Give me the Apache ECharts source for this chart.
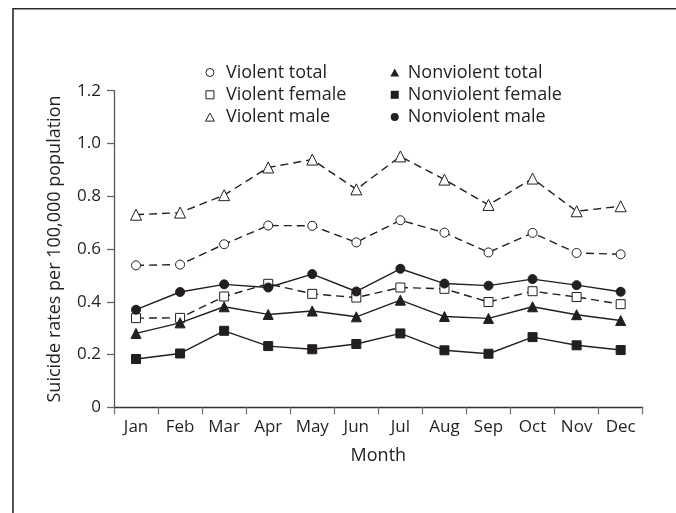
<!DOCTYPE html>
<html>
<head>
<meta charset="utf-8">
<style>
html,body{margin:0;padding:0;background:#fff;}
#chart{width:676px;height:513px;}
</style>
<script src="https://cdn.jsdelivr.net/npm/echarts@6/dist/echarts.min.js"></script>
</head>
<body>
<div id="chart"></div>
<script>
var months = ['Jan','Feb','Mar','Apr','May','Jun','Jul','Aug','Sep','Oct','Nov','Dec'];
var yTicks = [0, 0.2, 0.4, 0.6, 0.8, 1.0, 1.2];
var violentTotal     = [0.538,0.541,0.618,0.689,0.688,0.625,0.709,0.662,0.587,0.661,0.585,0.580];
var violentFemale    = [0.338,0.339,0.420,0.468,0.430,0.416,0.454,0.449,0.399,0.440,0.418,0.391];
var violentMale      = [0.730,0.738,0.804,0.909,0.939,0.826,0.951,0.863,0.767,0.867,0.743,0.762];
var nonviolentTotal  = [0.280,0.320,0.381,0.352,0.365,0.343,0.406,0.344,0.337,0.381,0.351,0.329];
var nonviolentFemale = [0.183,0.204,0.290,0.232,0.220,0.240,0.280,0.216,0.203,0.266,0.235,0.217];
var nonviolentMale   = [0.370,0.437,0.466,0.454,0.505,0.439,0.525,0.469,0.461,0.486,0.463,0.438];

var INK = '#231f20';
var FONT = 'Open Sans';

var ICON_CIRCLE = 'path://M5,0A5,5,0,1,1,5,10A5,5,0,1,1,5,0Z';
var ICON_SQUARE = 'path://M0,0L10,0L10,10L0,10Z';
var ICON_TRI = 'path://M5,0L10,9L0,9Z';

function ser(name, data, symbol, size, filled, dashed) {
  return {
    name: name, type: 'line', data: data,
    symbol: symbol, symbolSize: size,
    showAllSymbol: true,
    itemStyle: { color: filled ? INK : '#fff', borderColor: INK, borderWidth: 1 },
    lineStyle: { color: INK, width: 1.4, type: dashed ? [8, 5] : 'solid' },
    emphasis: { disabled: true },
    z: filled ? 3 : 2
  };
}

var openStyle = { color: '#fff', borderColor: INK, borderWidth: 1 };
var fillStyle = { color: INK, borderColor: INK, borderWidth: 0 };
var legendText = { fontFamily: FONT, fontSize: 18, color: INK, lineHeight: 20 };

var chart = echarts.init(document.getElementById('chart'), null, { renderer: 'canvas' });
chart.setOption({
  animation: false,
  backgroundColor: '#fff',
  textStyle: { fontFamily: FONT, color: INK },
  grid: { left: 114, right: 33.3, top: 90.7, bottom: 105.7, containLabel: false },
  legend: [
    {
      orient: 'vertical', left: 205, top: 62.5, padding: 0,
      itemWidth: 22, itemHeight: 8, itemGap: 2.3, symbolKeepAspect: true,
      textStyle: legendText,
      data: [
        { name: 'Violent total', icon: ICON_CIRCLE, itemStyle: openStyle },
        { name: 'Violent female', icon: ICON_SQUARE, itemStyle: openStyle },
        { name: 'Violent male', icon: ICON_TRI, itemStyle: openStyle }
      ]
    },
    {
      orient: 'vertical', left: 390.3, top: 62.5, padding: 0,
      itemWidth: 16, itemHeight: 8, itemGap: 2.3, symbolKeepAspect: true,
      textStyle: legendText,
      data: [
        { name: 'Nonviolent total', icon: ICON_TRI, itemStyle: fillStyle },
        { name: 'Nonviolent female', icon: ICON_SQUARE, itemStyle: fillStyle },
        { name: 'Nonviolent male', icon: ICON_CIRCLE, itemStyle: fillStyle }
      ]
    }
  ],
  xAxis: {
    type: 'category', data: months, boundaryGap: true,
    name: 'Month', nameLocation: 'middle', nameGap: 40,
    nameTextStyle: { fontFamily: FONT, fontSize: 18, color: INK },
    axisLine: { lineStyle: { color: '#333', width: 1.3 } },
    axisTick: { show: true, alignWithLabel: false, length: 7, lineStyle: { color: '#777', width: 1.3 } },
    axisLabel: { fontFamily: FONT, fontSize: 17, color: INK, margin: 11, interval: 0 },
    splitLine: { show: false }
  },
  yAxis: {
    type: 'value', min: yTicks[0], max: yTicks[yTicks.length - 1], interval: 0.2,
    name: 'Suicide rates per 100,000 population', nameLocation: 'middle', nameGap: 50,
    nameTextStyle: { fontFamily: FONT, fontSize: 18, color: INK },
    axisLine: { show: true, lineStyle: { color: '#555', width: 1.3 } },
    axisTick: { show: true, length: 7, lineStyle: { color: '#666', width: 1.3 } },
    axisLabel: {
      fontFamily: FONT, fontSize: 17, color: INK, margin: 13,
      formatter: function (v) { return v === 0 ? '0' : v.toFixed(1); }
    },
    splitLine: { show: false }
  },
  series: [
    ser('Violent total', violentTotal, 'circle', 9, false, true),
    ser('Violent female', violentFemale, 'rect', 9, false, true),
    ser('Violent male', violentMale, 'triangle', 11, false, true),
    ser('Nonviolent total', nonviolentTotal, 'triangle', 10, true, false),
    ser('Nonviolent female', nonviolentFemale, 'rect', 9, true, false),
    ser('Nonviolent male', nonviolentMale, 'circle', 9, true, false)
  ],
  graphic: [
    { type: 'polyline', silent: true, z: 100,
      shape: { points: [[13, 513], [13, 8.7], [676, 8.7]] },
      style: { stroke: '#2a2a2a', lineWidth: 1.6, fill: null } }
  ]
});
</script>
</body>
</html>
